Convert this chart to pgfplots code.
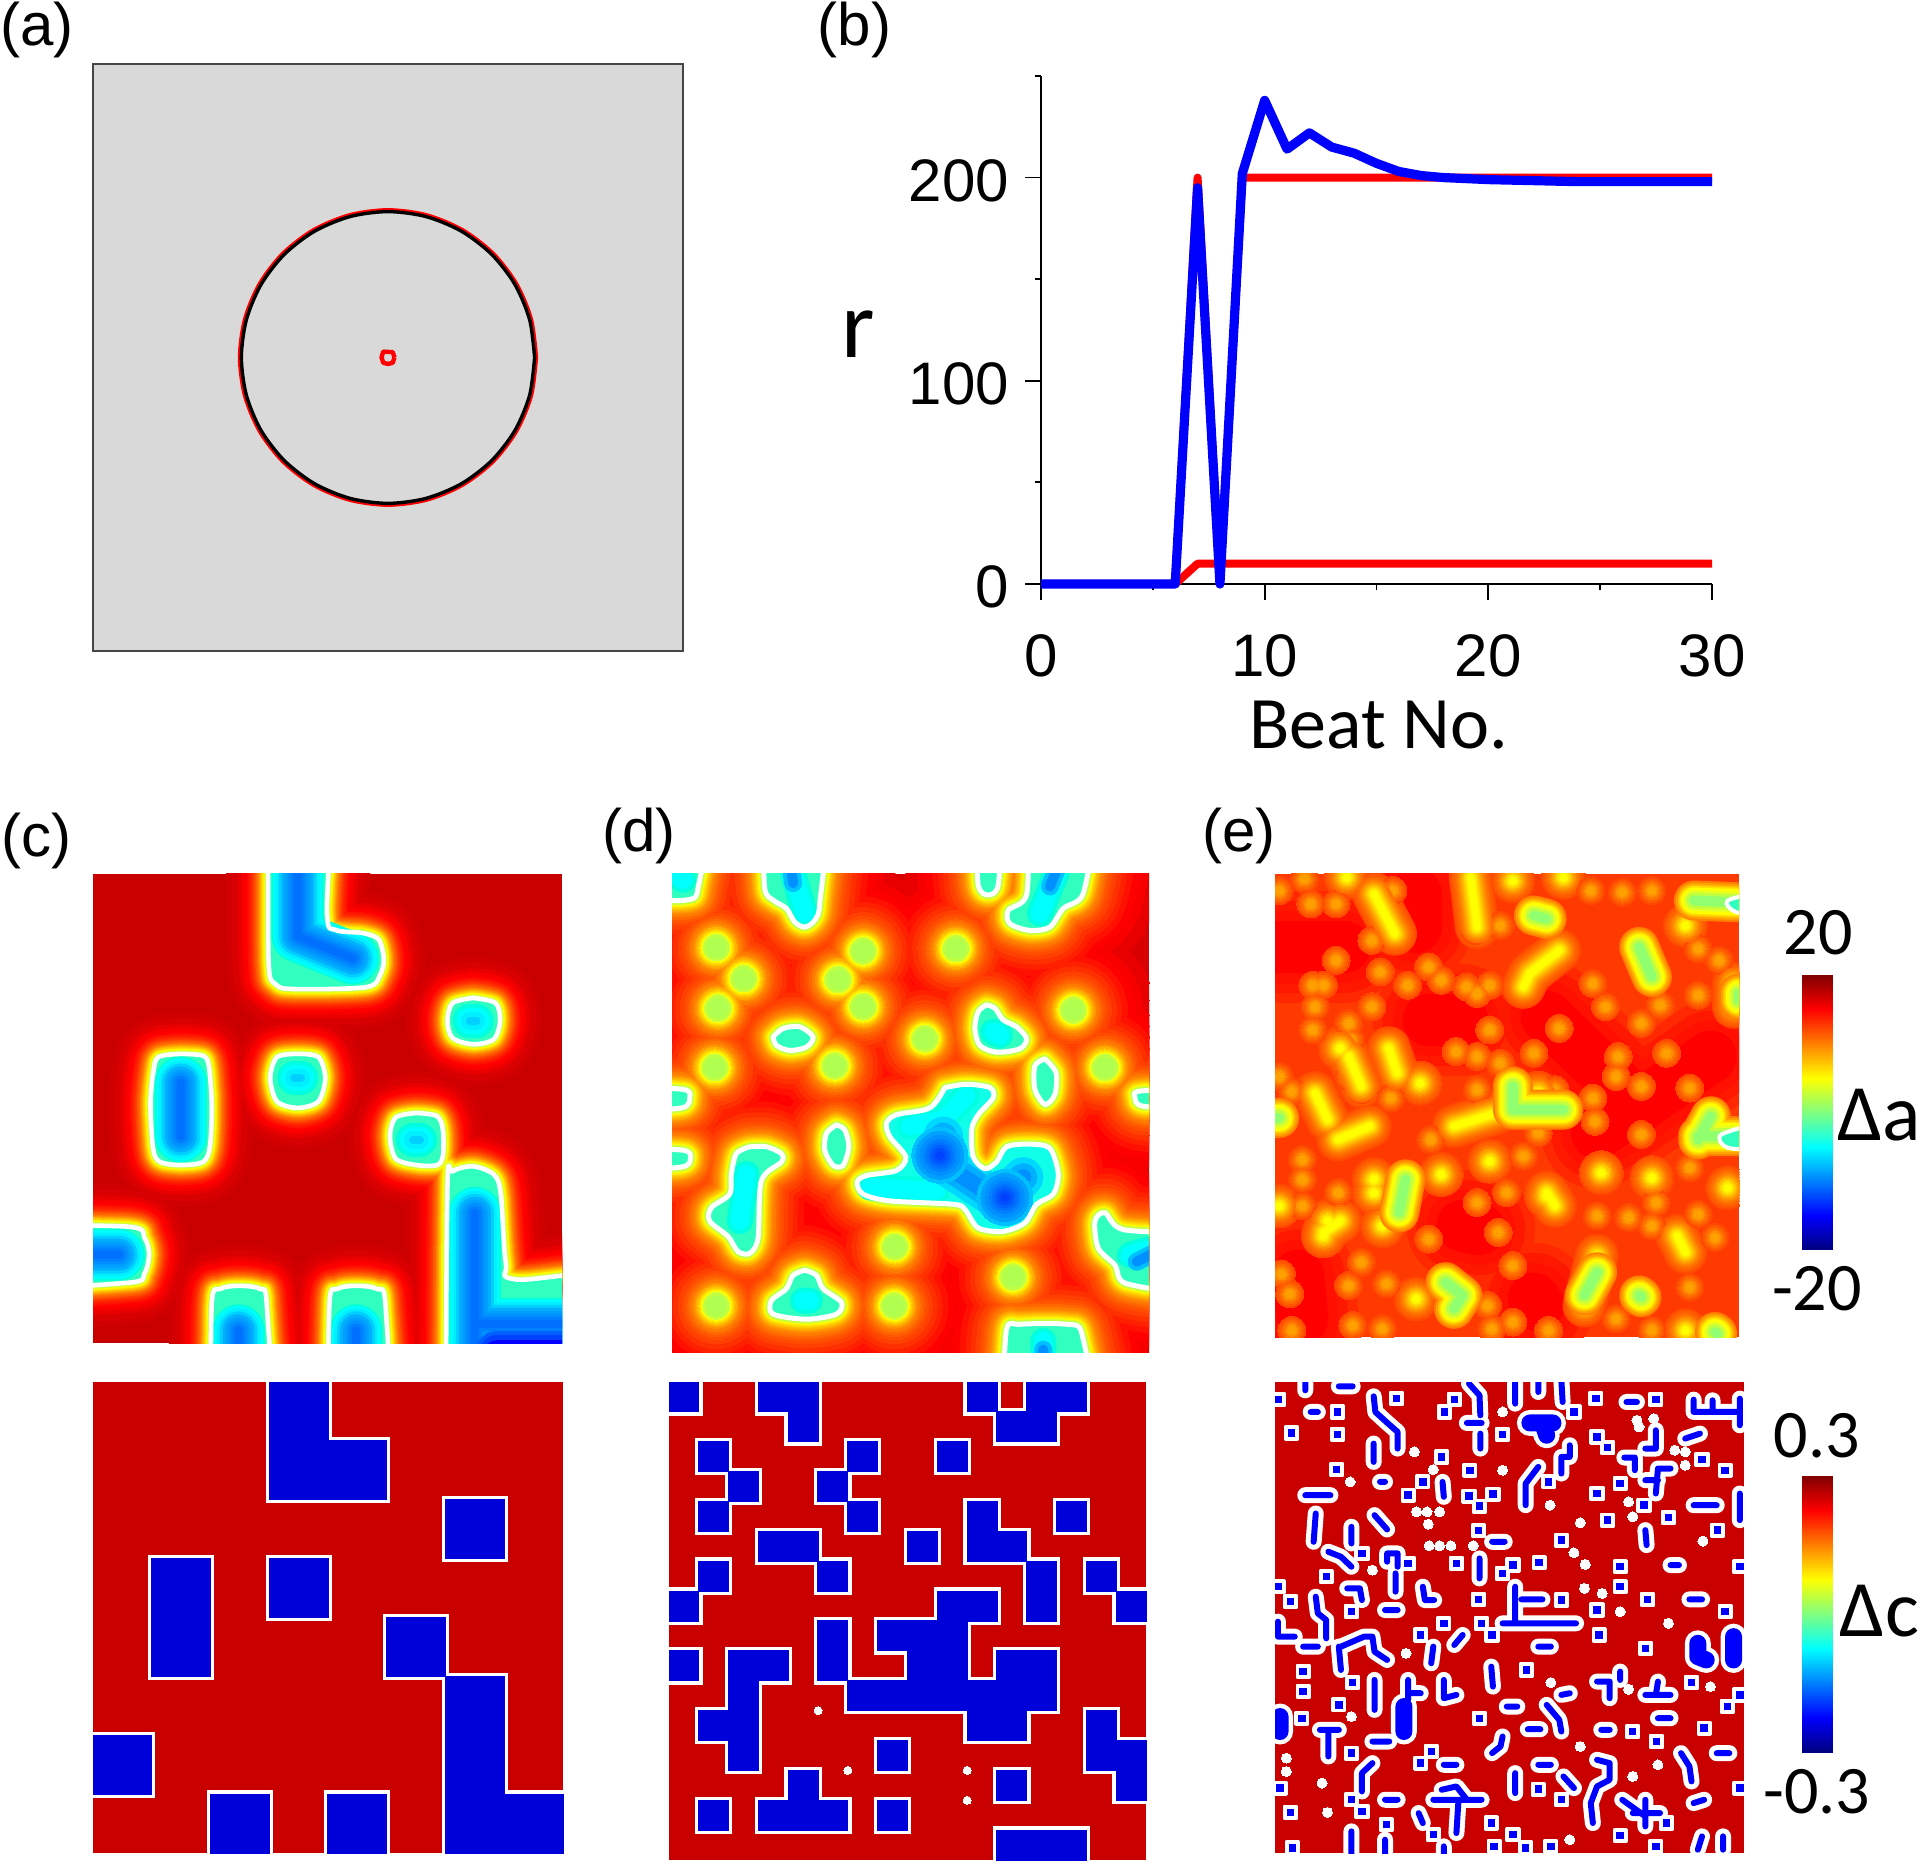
\documentclass[border=0pt]{standalone}
\usepackage{pgfplots}
\usepackage{pgfplotstable}
\pgfplotsset{compat=1.18}
\usepackage{fontspec}
\setmainfont{Liberation Sans}
\newfontfamily\carl{Carlito}
\newcommand\dc[1]{\definecolor{h#1}{HTML}{#1}}
\dc{C80000}\dc{D00000}\dc{D80000}\dc{E80000}\dc{F80000}\dc{FF0000}\dc{FF1000}\dc{FF1800}\dc{FF2000}\dc{FF2800}\dc{FF3000}\dc{FF3A00}\dc{FF4000}\dc{FF4800}\dc{FF4C00}\dc{FF5800}\dc{FF6000}\dc{FF6800}\dc{FF7000}\dc{FF7800}\dc{FF8000}\dc{FF9000}\dc{FFA000}\dc{FFA800}\dc{FFB000}\dc{FFC000}\dc{FFD000}\dc{FFE000}\dc{FFF000}\dc{FFFF00}\dc{E8FF20}\dc{D0FF40}\dc{C0FF40}\dc{B0FF50}\dc{90FF70}\dc{30FFC0}\dc{10FFE8}\dc{00FFE0}\dc{00FFFF}\dc{00F0FF}\dc{00D8FF}\dc{00D0FF}\dc{00C0FF}\dc{00B0FF}\dc{00A0FF}\dc{0090FF}\dc{0080FF}\dc{0070FF}\dc{0060FF}\dc{0050FF}\dc{0040FF}\dc{0000FF}\dc{0000D8}
\pgfplotsset{
 pan/.style={scale only axis,ticks=none,axis line style={draw=none},y dir=reverse,clip=true,clip mode=individual,clip marker paths=true,unbounded coords=jump},
 lc/.style={line cap=round,line join=round,forget plot,no markers},
}
% ---------- panel (c) top: contours, read in crop coordinates
\pgfplotstableread[row sep=\\]{x y\\
605 -100\\605 170\\625 210\\680 218\\890 215\\930 195\\940 170\\925 140\\880 130\\800 125\\775 100\\775 -100\\605 -100\\nan nan\\
1200 232\\1140 240\\1125 268\\1140 295\\1200 305\\1260 297\\1278 268\\1265 240\\1200 232\\nan nan\\
350 320\\285 325\\270 350\\262 400\\270 470\\290 490\\350 495\\415 490\\435 465\\440 400\\432 340\\415 323\\350 320\\nan nan\\
690 320\\630 325\\610 358\\630 395\\690 405\\750 395\\770 358\\750 325\\690 320\\nan nan\\
1035 413\\975 420\\958 450\\975 485\\1035 495\\1095 495\\1112 480\\1112 440\\1095 418\\1035 413\\nan nan\\
1120 950\\1125 530\\1140 505\\1200 497\\1260 510\\1280 540\\1295 650\\1325 675\\1700 682\\1700 950\\1120 950\\nan nan\\
-160 590\\200 592\\245 610\\258 635\\245 665\\200 680\\-160 682\\-160 590\\nan nan\\
437 950\\440 715\\465 690\\520 685\\580 690\\600 715\\608 950\\437 950\\nan nan\\
778 950\\782 715\\805 690\\860 685\\920 690\\945 715\\950 950\\778 950\\
}\cCont
\pgfplotstableread[row sep=\\]{x y\\
690 20\\690 135\\850 170\\nan nan\\350 365\\350 450\\nan nan\\1205 570\\1205 800\\nan nan\\1205 745\\1480 745\\nan nan\\70 636\\170 636\\nan nan\\518 800\\518 755\\nan nan\\860 800\\860 755\\
}\cBig
\pgfplotstableread[row sep=\\]{x y\\
1190 268\\1210 268\\nan nan\\680 358\\700 358\\nan nan\\1025 455\\1045 455\\
}\cSmall
\pgfplotstableread[row sep=\\]{x y\\
1270 790\\1480 790\\
}\cDeep
% ---------- panel (c) bottom cells (column, row from the top)
\pgfplotstableread[row sep=\\]{x y\\
3.5 0.5\\3.5 1.5\\4.5 1.5\\6.5 2.5\\1.5 3.5\\1.5 4.5\\3.5 3.5\\5.5 4.5\\6.5 5.5\\6.5 6.5\\6.5 7.5\\7.5 7.5\\0.5 6.5\\2.5 7.5\\4.5 7.5\\
}\cCells
% ---------- panel (d) top
\pgfplotstableread[row sep=\\]{x y\\
-80 150\\110 150\\145 115\\150 -60\\-80 -60\\-80 150\\nan nan\\
340 -60\\345 115\\370 150\\410 175\\435 215\\465 230\\495 210\\510 160\\515 -60\\340 -60\\nan nan\\
980 -60\\985 105\\1015 135\\1045 105\\1048 -60\\980 -60\\nan nan\\
1135 -60\\1130 135\\1075 180\\1080 220\\1140 240\\1200 230\\1240 175\\1300 130\\1315 -60\\1135 -60\\nan nan\\
370 555\\400 530\\450 525\\490 555\\470 585\\420 595\\380 580\\370 555\\nan nan\\
1010 460\\985 480\\975 530\\990 580\\1040 600\\1110 590\\1130 560\\1100 525\\1060 505\\1035 470\\1010 460\\nan nan\\
1185 620\\1155 640\\1155 710\\1185 755\\1215 725\\1218 660\\1185 620\\nan nan\\
1640 710\\1470 715\\1455 735\\1480 760\\1640 765\\1640 710\\nan nan\\
-80 705\\100 710\\120 735\\95 765\\-80 770\\-80 705\\nan nan\\
-80 885\\100 890\\122 915\\95 940\\-80 945\\-80 885\\nan nan\\
560 815\\530 840\\525 890\\550 935\\580 935\\597 880\\585 830\\560 815\\nan nan\\
300 880\\260 900\\245 960\\240 1020\\185 1060\\180 1100\\235 1145\\265 1190\\300 1195\\325 1150\\335 980\\395 925\\395 900\\350 880\\300 880\\nan nan\\
1640 1135\\1420 1125\\1365 1075\\1335 1100\\1345 1180\\1395 1230\\1430 1285\\1640 1300\\1640 1135\\nan nan\\
465 1245\\430 1260\\410 1300\\365 1335\\370 1375\\470 1390\\560 1375\\575 1340\\520 1300\\500 1260\\465 1245\\nan nan\\
1060 1620\\1070 1420\\1110 1405\\1250 1405\\1295 1430\\1305 1620\\1060 1620\\
}\dCont
\pgfplotstableread[row sep=\\]{x y\\
885 705\\950 695\\1020 705\\1030 735\\985 785\\965 830\\970 910\\1005 945\\1040 925\\1070 880\\1140 872\\1200 885\\1225 960\\1210 1020\\1160 1050\\1125 1105\\1060 1130\\985 1120\\945 1065\\910 1050\\720 1040\\640 1020\\622 985\\650 965\\740 950\\768 910\\720 850\\710 810\\740 785\\840 765\\885 705\\
}\dBig
\pgfplotstableread[row sep=\\]{x y\\
200 290\\282 382\\205 470\\640 300\\565 385\\640 465\\918 293\\1270 475\\825 560\\195 645\\555 640\\1365 645\\735 1175\\1090 1265\\200 1350\\733 1350\\
}\dDots
\pgfplotstableread[row sep=\\]{x y\\
70 70\\100 90\\nan nan\\430 70\\465 190\\nan nan\\1220 70\\1170 190\\nan nan\\1030 540\\1050 550\\nan nan\\270 1100\\290 960\\nan nan\\1440 1200\\1510 1180\\nan nan\\460 1335\\480 1335\\nan nan\\1180 1510\\1180 1455\\nan nan\\950 730\\880 800\\780 820\\nan nan\\660 1000\\860 1010\\nan nan\\
}\dInner
\pgfplotstableread[row sep=\\]{x y\\
425 60\\430 100\\nan nan\\1220 60\\1200 110\\nan nan\\1460 1220\\1520 1190\\nan nan\\1180 1510\\1180 1480\\
}\dBlue
\pgfplotstableread[row sep=\\]{x y\\
880 850\\880 930\\1050 1040\\1120 970\\
}\dCore
\pgfplotstableread[row sep=\\]{x y\\
870 905\\1065 1030\\
}\dCoreDots
% ---------- panel (d) bottom cells
\pgfplotstableread[row sep=\\]{x y\\
0.5 0.5\\3.5 0.5\\4.5 0.5\\10.5 0.5\\12.5 0.5\\13.5 0.5\\
4.5 1.5\\11.5 1.5\\12.5 1.5\\
1.5 2.5\\6.5 2.5\\9.5 2.5\\
2.5 3.5\\5.5 3.5\\
1.5 4.5\\6.5 4.5\\10.5 4.5\\13.5 4.5\\
3.5 5.5\\4.5 5.5\\8.5 5.5\\10.5 5.5\\11.5 5.5\\
1.5 6.5\\5.5 6.5\\12.5 6.5\\14.5 6.5\\
0.5 7.5\\9.5 7.5\\10.5 7.5\\12.5 7.5\\15.5 7.5\\
5.5 8.5\\7.5 8.5\\8.5 8.5\\9.5 8.5\\
0.5 9.5\\2.5 9.5\\3.5 9.5\\5.5 9.5\\8.5 9.5\\9.5 9.5\\11.5 9.5\\12.5 9.5\\
2.5 10.5\\6.5 10.5\\7.5 10.5\\8.5 10.5\\9.5 10.5\\10.5 10.5\\11.5 10.5\\12.5 10.5\\
1.5 11.5\\2.5 11.5\\10.5 11.5\\11.5 11.5\\14.5 11.5\\
2.5 12.5\\7.5 12.5\\14.5 12.5\\15.5 12.5\\
4.5 13.5\\11.5 13.5\\15.5 13.5\\
1.5 14.5\\3.5 14.5\\4.5 14.5\\5.5 14.5\\7.5 14.5\\
11.5 15.5\\12.5 15.5\\13.5 15.5\\
}\dCells
\pgfplotstableread[row sep=\\]{x y\\
5 11\\6 13\\10 13\\10 14\\
}\dSpots
% ---------- panel (e) top
\pgfplotstableread[row sep=\\]{x y\\
40 260\\200 260\\nan nan\\400 480\\480 480\\nan nan\\680 470\\900 740\\1070 590\\nan nan\\90 1250\\100 1380\\nan nan\\480 1100\\520 1110\\nan nan\\650 1320\\660 1340\\nan nan\\370 100\\370 200\\nan nan\\800 820\\900 740\\
}\eRed
\pgfplotstableread[row sep=\\]{x y\\
105 55\\120 130\\45 90\\180 130\\270 100\\315 90\\265 240\\180 300\\285 335\\125 375\\150 375\\350 375\\400 320\\430 360\\490 380\\545 375\\515 400\\130 440\\125 510\\210 490\\215 540\\265 440\\545 510\\465 575\\515 590\\650 580\\570 610\\710 505\\790 370\\820 440\\850 590\\845 650\\965 580\\905 490\\950 435\\1040 405\\1040 265\\1090 300\\785 90\\860 95\\930 90\\570 195\\510 210\\45 650\\75 695\\210 650\\240 690\\310 715\\515 690\\700 690\\905 680\\1020 685\\790 715\\795 785\\405 840\\625 890\\660 820\\100 900\\100 960\\1020 925\\585 1000\\515 1030\\800 1070\\875 1075\\940 1030\\1040 1065\\930 1100\\565 1120\\185 1000\\100 1040\\1080 1135\\600 1220\\240 1210\\210 1280\\300 1275\\400 1140\\70 1305\\50 1245\\220 1400\\290 1410\\550 1410\\600 1390\\685 1415\\845 1380\\930 1415\\1020 1285\\75 1415\\540 1340\\905 825\\
}\eA
\pgfplotstableread[row sep=\\]{x y\\
205 50\\190 565\\380 670\\270 960\\160 1085\\290 1100\\545 905\\1125 400\\680 1010\\810 940\\930 955\\1110 985\\45 1040\\370 1320\\1010 1415\\430 945\\600 60\\720 50\\1010 195\\660 700\\150 1130\\270 1000\\
}\eB
\pgfplotstableread[row sep=\\]{x y\\
305 565\\325 640\\nan nan\\710 270\\640 340\\625 380\\nan nan\\500 50\\515 200\\nan nan\\130 700\\160 780\\nan nan\\185 840\\260 800\\nan nan\\460 800\\560 760\\nan nan\\990 1130\\1010 1180\\nan nan\\800 1190\\770 1340\\nan nan\\680 1000\\700 1040\\nan nan\\190 1085\\150 1120\\nan nan\\270 100\\320 220\\nan nan\\1125 370\\1125 440\\nan nan\\210 590\\240 680\\nan nan\\
}\eBs
\pgfplotstableread[row sep=\\]{x y\\
650 165\\680 175\\nan nan\\1030 120\\1130 125\\nan nan\\900 260\\930 350\\nan nan\\600 680\\600 750\\720 750\\600 750\\nan nan\\1040 840\\1070 770\\nan nan\\1040 830\\1130 830\\nan nan\\345 960\\330 1060\\nan nan\\440 1270\\480 1310\\460 1350\\nan nan\\800 1240\\770 1310\\nan nan\\900 1310\\905 1315\\nan nan\\1080 1420\\1085 1425\\nan nan\\40 775\\45 775\\nan nan\\1137 400\\1137 420\\nan nan\\
}\eC
\pgfplotstableread[row sep=\\]{x y\\
1200 90\\1110 120\\1130 155\\1200 160\\nan nan\\1200 785\\1095 825\\1110 865\\1200 870\\
}\eRing
% ---------- panel (e) bottom
\pgfplotstableread[row sep=\\]{x y\\
105 30\\105 60\\nan nan\\185 48\\218 48\\nan nan\\118 125\\135 125\\nan nan\\268 78\\272 125\\298 155\\325 185\\325 235\\nan nan\\495 40\\520 75\\522 135\\nan nan\\490 158\\525 158\\nan nan\\522 190\\522 235\\nan nan\\605 30\\605 100\\nan nan\\660 30\\660 65\\nan nan\\715 30\\718 95\\nan nan\\870 95\\895 95\\nan nan\\1030 88\\1030 125\\1140 125\\nan nan\\1075 90\\1075 125\\nan nan\\1140 85\\1140 165\\nan nan\\268 220\\268 275\\nan nan\\432 335\\435 380\\nan nan\\283 335\\295 335\\nan nan\\735 225\\735 260\\715 260\\715 310\\nan nan\\660 290\\630 340\\630 405\\nan nan\\940 180\\940 235\\915 235\\nan nan\\1010 205\\1045 190\\nan nan\\865 262\\890 262\\890 300\\nan nan\\975 295\\945 295\\940 370\\nan nan\\915 330\\945 330\\nan nan\\105 375\\165 375\\nan nan\\1030 405\\1085 405\\nan nan\\1140 370\\1140 450\\nan nan\\130 430\\125 515\\nan nan\\215 470\\215 520\\nan nan\\270 435\\300 478\\nan nan\\550 515\\580 515\\nan nan\\915 480\\918 525\\nan nan\\160 545\\190 560\\215 590\\nan nan\\300 575\\300 550\\325 550\\325 590\\nan nan\\320 610\\320 665\\nan nan\\520 565\\520 625\\nan nan\\975 585\\995 585\\nan nan\\205 655\\235 655\\240 690\\nan nan\\385 650\\390 690\\412 690\\nan nan\\130 680\\135 730\\155 750\\155 805\\nan nan\\605 650\\605 755\\nan nan\\620 688\\670 688\\nan nan\\575 760\\750 760\\nan nan\\295 720\\325 720\\nan nan\\1020 688\\1050 688\\nan nan\\480 795\\460 825\\nan nan\\40 755\\40 800\\80 800\\nan nan\\100 830\\135 830\\nan nan\\185 830\\190 900\\nan nan\\190 830\\245 800\\265 800\\270 845\\300 870\\nan nan\\410 830\\405 880\\nan nan\\660 830\\690 830\\nan nan\\548 890\\552 950\\nan nan\\855 905\\855 930\\nan nan\\800 935\\830 935\\830 985\\nan nan\\945 935\\940 975\\nan nan\\915 975\\975 975\\nan nan\\270 930\\270 1020\\nan nan\\350 930\\350 990\\nan nan\\350 970\\380 970\\nan nan\\435 930\\435 985\\465 975\\nan nan\\585 1010\\610 1010\\nan nan\\680 1005\\710 1050\\715 1085\\nan nan\\735 970\\715 975\\nan nan\\945 1045\\975 1045\\nan nan\\140 1080\\185 1080\\nan nan\\160 1080\\160 1160\\nan nan\\265 1115\\305 1115\\nan nan\\635 1078\\665 1078\\nan nan\\810 1080\\830 1080\\nan nan\\575 1100\\570 1130\\550 1150\\nan nan\\435 1185\\465 1185\\nan nan\\660 1185\\690 1185\\nan nan\\1085 1150\\1115 1150\\nan nan\\1000 1150\\1020 1190\\1025 1235\\nan nan\\265 1180\\240 1210\\240 1265\\nan nan\\800 1170\\830 1180\\830 1230\\800 1250\\785 1300\\790 1360\\nan nan\\605 1210\\605 1270\\nan nan\\720 1220\\745 1255\\nan nan\\295 1290\\325 1290\\nan nan\\430 1260\\465 1250\\490 1290\\nan nan\\410 1290\\525 1290\\nan nan\\470 1290\\465 1390\\nan nan\\375 1330\\385 1360\\nan nan\\860 1290\\915 1340\\nan nan\\915 1290\\915 1370\\nan nan\\885 1330\\950 1330\\nan nan\\1030 1300\\1055 1290\\nan nan\\215 1385\\215 1460\\nan nan\\295 1410\\295 1460\\nan nan\\435 1430\\435 1460\\nan nan\\1050 1400\\1040 1440\\nan nan\\1100 1400\\1100 1440\\nan nan\\
}\eS
\pgfplotstableread[row sep=\\]{x y\\
640 158\\695 158\\nan nan\\670 158\\680 195\\nan nan\\340 1010\\340 1085\\nan nan\\1040 820\\1040 860\\1060 870\\nan nan\\1125 800\\1125 870\\nan nan\\45 1040\\45 1085\\nan nan\\
}\eT
\pgfplotstableread[row sep=\\]{x y\\
42 88\\322 85\\460 88\\437 125\\182 125\\745 125\\575 192\\797 85\\940 88\\72 188\\182 192\\430 260\\385 335\\180 298\\497 300\\685 335\\800 200\\825 232\\1050 268\\1105 300\\855 340\\800 370\\350 375\\495 378\\520 408\\552 372\\912 405\\825 450\\970 442\\518 482\\715 510\\1087 480\\240 550\\350 580\\465 580\\600 585\\662 578\\575 610\\855 590\\1140 590\\155 620\\40 650\\70 695\\518 688\\855 650\\715 690\\920 688\\215 725\\800 720\\1105 725\\435 760\\525 760\\550 795\\805 795\\380 795\\915 835\\100 905\\100 965\\632 900\\1025 938\\218 938\\185 1005\\1110 1010\\1140 975\\97 1045\\520 1045\\885 1085\\1055 1075\\942 1115\\215 1150\\405 1145\\380 1180\\660 1258\\45 1255\\1140 1255\\215 1290\\240 1325\\715 1290\\965 1360\\70 1328\\298 1365\\548 1360\\410 1395\\75 1435\\555 1430\\600 1395\\630 1435\\690 1430\\855 1398\\940 1430\\
}\eOne
\pgfplotstableread[row sep=\\]{x y\\
575 125\\365 245\\410 298\\575 300\\895 150\\935 145\\900 170\\985 240\\1010 245\\1010 285\\212 335\\688 405\\875 395\\370 425\\395 425\\425 425\\398 462\\885 440\\760 458\\1052 513\\400 527\\425 527\\452 527\\505 527\\745 548\\772 583\\265 600\\770 655\\812 670\\855 725\\970 760\\345 850\\690 938\\1070 950\\875 958\\215 1040\\760 1130\\60 1165\\60 1205\\945 1185\\885 1220\\145 1240\\158 1328\\735 1410\\
}\eDots
% ---------- panel (b)
\pgfplotstableread[row sep=\\]{x y\\0 0\\6 0\\7 200\\8 0\\9 200\\30 200\\}\bRedA
\pgfplotstableread[row sep=\\]{x y\\6 0\\7 10\\30 10\\}\bRedB
\pgfplotstableread[row sep=\\]{x y\\0 0\\6 0\\7 195\\8 0\\9 202\\10 238\\11 214\\12 222\\13 215\\14 212\\15 207\\16 203\\17 201\\18 200\\19 199.5\\20 199\\22 198.5\\24 198\\30 198\\}\bBlue
% ---------- layer helpers
\newcommand\Lay[3]{\addplot[draw=h#2,line width=#3pt,lc,smooth] table {#1};}
\newcommand\Lin[3]{\addplot[draw=h#2,line width=#3pt,lc] table {#1};}
\newcommand\Dot[3]{\addplot[only marks,mark=*,mark size=#3pt,mark options={draw=h#2,fill=h#2,line width=0pt},forget plot] table {#1};}
\newcommand\Sq[3]{\addplot[only marks,mark=square*,mark size=#3pt,mark options={draw=h#2,fill=h#2,line width=0pt},forget plot] table {#1};}
\newcommand\dLayer[2]{\Lay{\dCont}{#2}{#1}\Lay{\dBig}{#2}{#1}\addplot[only marks,mark=*,mark size={(#1+9)/2*1pt},mark options={draw=h#2,fill=h#2,line width=0pt},forget plot] table {\dDots};}
\newcommand\eALayer[2]{\Dot{\eA}{#1}{#2}}
\newcommand\eBLayer[2]{\Dot{\eB}{#1}{#2}\Lin{\eBs}{#1}{#2*2}}
\newcommand\T[3]{\node at ({#1*0.6122pt},{(1521-#2)*0.6122pt}) {#3};}
\begin{document}
\begin{tikzpicture}
\path[use as bounding box] (0,0) rectangle (960pt,931.5pt);
% ---------- (a)
\begin{axis}[scale only axis,at={(46.5pt,606pt)},anchor=south west,width=295pt,height=293.5pt,xmin=-1,xmax=1,ymin=-1,ymax=1,ticks=none,axis background/.style={fill={rgb,255:red,217;green,217;blue,217}},axis line style={draw={rgb,255:red,70;green,70;blue,70},line width=1pt},no markers]
\addplot[red,line width=1.2pt,line join=round,smooth] coordinates {(.505,0)(.4878,.1307)(.4373,.2525)(.3571,.3571)(.2525,.4373)(.1307,.4878)(0,.505)(-.1307,.4878)(-.2525,.4373)(-.3571,.3571)(-.4373,.2525)(-.4878,.1307)(-.505,0)(-.4878,-.1307)(-.4373,-.2525)(-.3571,-.3571)(-.2525,-.4373)(-.1307,-.4878)(0,-.505)(.1307,-.4878)(.2525,-.4373)(.3571,-.3571)(.4373,-.2525)(.4878,-.1307)(.505,0)};
\addplot[black,line width=1.7pt,line join=round,smooth] coordinates {(.497,0)(.4801,.1286)(.4304,.2485)(.3514,.3514)(.2485,.4304)(.1286,.4801)(0,.497)(-.1286,.4801)(-.2485,.4304)(-.3514,.3514)(-.4304,.2485)(-.4801,.1286)(-.497,0)(-.4801,-.1286)(-.4304,-.2485)(-.3514,-.3514)(-.2485,-.4304)(-.1286,-.4801)(0,-.497)(.1286,-.4801)(.2485,-.4304)(.3514,-.3514)(.4304,-.2485)(.4801,-.1286)(.497,0)};
\addplot[red,line width=2.2pt,line join=round] coordinates {(.022,0)(.016,.018)(-.016,.02)(-.022,0)(-.016,-.018)(0,-.022)(.016,-.018)(.022,0)};
\end{axis}
% ---------- (b)
\begin{axis}[scale only axis,at={(520.5pt,639.5pt)},anchor=south west,width=335.5pt,height=254pt,xmin=0,xmax=30,ymin=0,ymax=250,axis lines=left,axis line style={-,line width=0.9pt},xtick={0,10,20,30},minor xtick={5,15,25},ytick={0,100,200},minor ytick={50,150,250},tick align=outside,major tick length=8pt,minor tick length=3pt,tick style={black,line width=0.9pt},tick label style={font=\fontsize{30}{30}\selectfont,/pgf/number format/assume math mode=true},xticklabel style={yshift=-14pt},yticklabel style={xshift=-4.5pt,yshift=-1.5pt},no markers,clip=false,line join=round]
\addplot[hFF0000,line width=4pt] table {\bRedA};
\addplot[hFF0000,line width=4pt] table {\bRedB};
\addplot[blue,line width=4.6pt] table {\bBlue};
\end{axis}
% ---------- (c) top
\begin{axis}[pan,at={(46.5pt,260pt)},anchor=south west,width=234.5pt,height=234.5pt,xmin=95,xmax=1458,ymin=37,ymax=775,axis background/.style={fill=hC80000}]
\Lay{\cCont}{D00000}{42}\Lay{\cCont}{D80000}{36}\Lay{\cCont}{E80000}{30}\Lay{\cCont}{F80000}{26}\Lay{\cCont}{FF0000}{23}\Lay{\cCont}{FF1000}{20.5}\Lay{\cCont}{FF2000}{18.5}\Lay{\cCont}{FF3000}{16.5}\Lay{\cCont}{FF4000}{15}\Lay{\cCont}{FF5800}{13.5}\Lay{\cCont}{FF6800}{12}\Lay{\cCont}{FF8000}{10.5}\Lay{\cCont}{FF9000}{9.5}\Lay{\cCont}{FFA800}{8.5}\Lay{\cCont}{FFC000}{7.5}\Lay{\cCont}{FFD000}{6.5}\Lay{\cCont}{FFF000}{5.5}\Lay{\cCont}{FFFF00}{4.5}\Lay{\cCont}{D0FF40}{3.5}
\addplot[fill=h30FFC0,draw=none,lc,smooth] table {\cCont};
\Lin{\cBig}{00FFE0}{26}\Lin{\cSmall}{00FFE0}{17}
\Lin{\cBig}{00FFFF}{24}\Lin{\cSmall}{00FFFF}{13}
\Lin{\cBig}{00F0FF}{22}\Lin{\cSmall}{00F0FF}{9}
\Lin{\cBig}{00D0FF}{19}\Lin{\cSmall}{00D0FF}{4}
\Lin{\cBig}{00B0FF}{16}\Lin{\cBig}{00A0FF}{13}\Lin{\cBig}{0090FF}{10}\Lin{\cBig}{0080FF}{7}\Lin{\cBig}{0070FF}{4}
\Lin{\cDeep}{0060FF}{22}\Lin{\cDeep}{0040FF}{18}\Lin{\cDeep}{0000FF}{13}
\addplot[draw=white,line width=2.3pt,lc,smooth] table {\cCont};
\end{axis}
% ---------- (c) bottom
\begin{axis}[pan,at={(46.5pt,5pt)},anchor=south west,width=235pt,height=235.5pt,xmin=0,xmax=8,ymin=0,ymax=8,axis background/.style={fill=hC80000}]
\addplot[only marks,mark=square*,mark size=16.3pt,mark options={draw=white,fill=white,line width=0pt},forget plot] table {\cCells};
\Sq{\cCells}{0000D8}{14.75}
\end{axis}
% ---------- (d) top
\begin{axis}[pan,at={(336pt,255.5pt)},anchor=south west,width=238.5pt,height=239pt,xmin=67,xmax=1497,ymin=73,ymax=1487,axis background/.style={fill=hD80000}]
\dLayer{72}{E80000}\dLayer{60}{F80000}\dLayer{52}{FF0000}\dLayer{45}{FF1000}\dLayer{39}{FF2000}\dLayer{34}{FF3000}\dLayer{29}{FF4000}\dLayer{25}{FF4C00}\dLayer{22}{FF5800}\dLayer{19.5}{FF6800}\dLayer{17}{FF7800}\dLayer{15}{FF8000}\dLayer{13.5}{FF9000}\dLayer{12}{FFA000}\dLayer{11}{FFB000}\dLayer{9.5}{FFC000}\dLayer{8.5}{FFD000}\dLayer{7.5}{FFE000}\dLayer{6.5}{FFF000}\dLayer{5.5}{FFFF00}\dLayer{4.5}{D0FF40}\dLayer{3.5}{C0FF40}
\Dot{\dDots}{B0FF50}{5}
\addplot[fill=h30FFC0,draw=none,lc,smooth] table {\dCont};
\addplot[fill=h10FFE8,draw=none,lc,smooth] table {\dBig};
\Lin{\dInner}{00FFE0}{13}\Lin{\dInner}{00FFFF}{9}\Lin{\dBlue}{00C0FF}{9}\Lin{\dBlue}{0090FF}{5}
\Lin{\dCore}{00D8FF}{20}\Lin{\dCore}{00B0FF}{14}\Lin{\dCore}{0090FF}{8}
\Dot{\dCoreDots}{00C0FF}{14}\Dot{\dCoreDots}{00A0FF}{12}\Dot{\dCoreDots}{0090FF}{10}\Dot{\dCoreDots}{0080FF}{8}\Dot{\dCoreDots}{0070FF}{6.5}\Dot{\dCoreDots}{0060FF}{5}\Dot{\dCoreDots}{0050FF}{3.5}\Dot{\dCoreDots}{0040FF}{2}
\addplot[draw=white,line width=2.5pt,lc,smooth] table {\dCont};
\addplot[draw=white,line width=2.5pt,lc,smooth] table {\dBig};
\end{axis}
% ---------- (d) bottom
\begin{axis}[pan,at={(334.5pt,1.5pt)},anchor=south west,width=238.5pt,height=239pt,xmin=0,xmax=16,ymin=0,ymax=16,axis background/.style={fill=hC80000}]
\addplot[only marks,mark=square*,mark size=9.1pt,mark options={draw=white,fill=white,line width=0pt},forget plot] table {\dCells};
\Sq{\dCells}{0000D8}{7.5}
\addplot[only marks,mark=*,mark size=2pt,mark options={draw=white,fill=white,line width=0pt},forget plot] table {\dSpots};
\end{axis}
% ---------- (e) top
\begin{axis}[pan,at={(637.5pt,263pt)},anchor=south west,width=232pt,height=231.5pt,xmin=35,xmax=1137,ymin=40,ymax=1435,axis background/.style={fill=hFF3A00}]
\Lin{\eRed}{FF2800}{56}\Lin{\eRed}{FF1800}{46}\Lin{\eRed}{FF1000}{36}\Lin{\eRed}{FF0000}{26}
\eBLayer{FF4800}{11}\eBLayer{FF5800}{10}\eBLayer{FF6000}{9}
\eALayer{FF4800}{7}\eALayer{FF5800}{6}\eALayer{FF6800}{5}\eALayer{FF7800}{4}\eALayer{FF9000}{3}\eALayer{FFA000}{2}
\eBLayer{FF7000}{8}\eBLayer{FF8000}{7}\eBLayer{FF9000}{6.2}\eBLayer{FFA000}{5.5}\eBLayer{FFB000}{4.8}\eBLayer{FFC000}{4.2}\eBLayer{FFD000}{3.6}\eBLayer{FFE000}{3}\eBLayer{FFF000}{2.4}\eBLayer{FFFF00}{1.7}
\Lin{\eC}{FF8000}{20}\Lin{\eC}{FFA000}{18}\Lin{\eC}{FFC000}{16}\Lin{\eC}{FFE000}{14.5}\Lin{\eC}{FFFF00}{13}\Lin{\eC}{E8FF20}{10.5}\Lin{\eC}{C0FF40}{8}\Lin{\eC}{90FF70}{5}
\addplot[fill=h30FFC0,draw=white,line width=2pt,lc,smooth] table {\eRing};
\end{axis}
% ---------- (e) bottom
\begin{axis}[pan,at={(637.5pt,5pt)},anchor=south west,width=234.5pt,height=235.5pt,xmin=33,xmax=1150,ymin=35,ymax=1450,axis background/.style={fill=hC80000}]
\addplot[draw=white,line width=8pt,lc] table {\eS};
\addplot[draw=white,line width=13pt,lc] table {\eT};
\addplot[only marks,mark=square*,mark size=3.2pt,mark options={draw=white,fill=white,line width=1.2pt,line join=round},forget plot] table {\eOne};
\addplot[only marks,mark=*,mark size=2.5pt,mark options={draw=white,fill=white,line width=0pt},forget plot] table {\eDots};
\addplot[draw=h0000FF,line width=3pt,lc] table {\eS};
\addplot[draw=h0000FF,line width=8.5pt,lc] table {\eT};
\Sq{\eOne}{0000FF}{1.6}
\end{axis}
% ---------- colour bars
\begin{axis}[scale only axis,at={(901pt,306.5pt)},anchor=south west,width=15pt,height=137.5pt,xmin=0,xmax=1,ymin=-20,ymax=20,ticks=none,axis line style={draw=none},colormap/jet]
\addplot[surf,shader=interp,point meta=y,mesh/rows=2] coordinates {(0,-20)(1,-20)(0,20)(1,20)};
\end{axis}
\begin{axis}[scale only axis,at={(901pt,55.5pt)},anchor=south west,width=15pt,height=138pt,xmin=0,xmax=1,ymin=-0.3,ymax=0.3,ticks=none,axis line style={draw=none},colormap/jet]
\addplot[surf,shader=interp,point meta=y,mesh/rows=2] coordinates {(0,-0.3)(1,-0.3)(0,0.3)(1,0.3)};
\end{axis}
% ---------- texts
\begin{scope}[every node/.style={inner sep=0pt,font=\fontsize{30}{30}\selectfont}]
\T{30}{24}{(a)}\T{698}{24}{(b)}\T{30}{686}{(c)}\T{522}{682}{(d)}\T{1012}{682}{(e)}
\end{scope}
\begin{scope}[every node/.style={inner sep=0pt,font=\carl\fontsize{34}{34}\selectfont}]
\T{1485}{761}{20}\T{1484}{1052}{-20}\T{1484}{1172}{0.3}\T{1484}{1463}{-0.3}
\end{scope}
\begin{scope}[every node/.style={inner sep=0pt,font=\carl\fontsize{37}{37}\selectfont}]
\T{1126}{592}{Beat No.}
\end{scope}
\begin{scope}[every node/.style={inner sep=0pt,font=\carl\fontsize{40}{40}\selectfont}]
\T{1535}{910}{Δa}\T{1535}{1315}{Δc}
\end{scope}
\begin{scope}[every node/.style={inner sep=0pt,font=\carl\fontsize{48}{48}\selectfont}]
\T{701}{272}{r}
\end{scope}
\end{tikzpicture}
\end{document}
